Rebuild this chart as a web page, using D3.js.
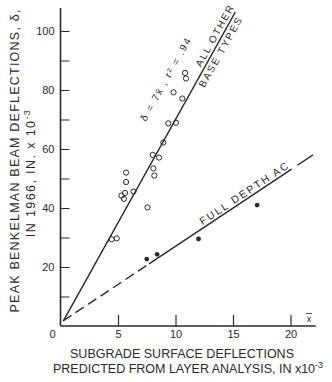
<!DOCTYPE html>
<html>
<head>
<meta charset="utf-8">
<script src="https://cdn.jsdelivr.net/npm/d3@7"></script>
<style>
  html, body { margin: 0; padding: 0; background: #fff; }
  svg { display: block; font-family: "Liberation Sans", Arial, sans-serif; }
</style>
</head>
<body>
<svg id="chart" width="332" height="382"></svg>
<script>
// Predicted subgrade deflection (x, in x10^-3) vs. measured Benkelman beam deflection (y)
const otherX = [4.45, 4.89, 5.30, 5.52, 5.61, 5.70, 5.70, 6.35, 7.57, 8.07, 8.16, 8.02, 8.57, 8.94, 9.37, 10.04, 10.59, 9.83, 10.83, 10.91];
const otherY = [29.4, 29.7, 44.2, 43.1, 45.1, 48.8, 52.0, 45.6, 40.2, 53.4, 51.0, 58.0, 57.1, 62.2, 68.7, 68.9, 77.1, 79.2, 85.8, 83.9];
const fullDepthX = [7.5, 8.4, 12.0, 17.1];
const fullDepthY = [22.7, 24.3, 29.5, 41.0];

// Regression line for all other base types: delta = 7 x-bar
const otherSlope = 7;
const otherFitX = [0.25, 15.2];
// Full depth AC trend line (dashed near the origin, broken just before its end)
const fullFitStart = [0.22, 1.7];
const fullFitEnd = [21.96, 58.0];
const fullDashedUntil = 7.7;
const fullGap = [20.1, 20.6];

const xTicks = [5, 10, 15, 20];
const yTicks = [10, 20, 30, 40, 50, 60, 70, 80, 90, 100];
const yLabelled = [20, 40, 60, 80, 100];

const ink = "#2a2a2a";
const svg = d3.select("#chart");

const x = d3.scaleLinear().domain([0, 20]).range([60.5, 290.5]);
const y = d3.scaleLinear().domain([0, 100]).range([326, 31]);

// Axis lines
svg.append("line").attr("x1", x(0)).attr("x2", x(0)).attr("y1", y(107.8)).attr("y2", y(0))
  .attr("stroke", ink).attr("stroke-width", 1.6);
svg.append("line").attr("x1", x(0)).attr("x2", x(22.2)).attr("y1", y(0)).attr("y2", y(0))
  .attr("stroke", ink).attr("stroke-width", 1.6);

// Y axis ticks (inward) and labels
const yAxis = d3.axisLeft(y).tickValues(yTicks).tickSizeInner(-9).tickSizeOuter(0).tickPadding(6)
  .tickFormat(d => yLabelled.includes(d) ? d : "");
const gy = svg.append("g").attr("transform", `translate(${x(0)},0)`).call(yAxis);
gy.select(".domain").remove();
gy.selectAll("line").attr("stroke", ink).attr("stroke-width", 1);
gy.selectAll("text").attr("font-size", 11).attr("fill", ink).attr("font-family", "Liberation Sans, Arial, sans-serif");

// X axis ticks (upward) and labels
const xAxis = d3.axisBottom(x).tickValues(xTicks).tickSizeInner(-11).tickSizeOuter(0).tickPadding(4);
const gx = svg.append("g").attr("transform", `translate(0,${y(0)})`).call(xAxis);
gx.select(".domain").remove();
gx.selectAll("line").attr("stroke", ink).attr("stroke-width", 1.2);
gx.selectAll("text").attr("font-size", 11).attr("fill", ink).attr("font-family", "Liberation Sans, Arial, sans-serif");

// Origin label
svg.append("text").attr("x", x(0) - 8).attr("y", y(0) + 12).attr("text-anchor", "middle")
  .attr("font-size", 11).attr("fill", ink).text("0");

// x-bar marker at the end of the x axis
svg.append("text").attr("x", 309).attr("y", 322).attr("text-anchor", "middle")
  .attr("font-size", 9).attr("fill", ink).text("x");
svg.append("line").attr("x1", 306).attr("x2", 312).attr("y1", 313.5).attr("y2", 313.5)
  .attr("stroke", ink).attr("stroke-width", 0.8);

// Fit line for all other base types
svg.append("line")
  .attr("x1", x(otherFitX[0])).attr("y1", y(otherSlope * otherFitX[0]))
  .attr("x2", x(otherFitX[1])).attr("y2", y(otherSlope * otherFitX[1]))
  .attr("stroke", ink).attr("stroke-width", 1.4);

// Full depth AC line
const fullAt = xv => fullFitStart[1] + (fullFitEnd[1] - fullFitStart[1]) * (xv - fullFitStart[0]) / (fullFitEnd[0] - fullFitStart[0]);
const seg = (x0, x1, dash) => svg.append("line")
  .attr("x1", x(x0)).attr("y1", y(fullAt(x0)))
  .attr("x2", x(x1)).attr("y2", y(fullAt(x1)))
  .attr("stroke", ink).attr("stroke-width", 1.4)
  .attr("stroke-dasharray", dash || null);
seg(fullFitStart[0], fullDashedUntil, "10,5");
seg(fullDashedUntil, fullGap[0]);
seg(fullGap[1], fullFitEnd[0]);

// Points
svg.append("g").selectAll("circle").data(otherX.map((d, i) => [d, otherY[i]])).join("circle")
  .attr("cx", d => x(d[0])).attr("cy", d => y(d[1])).attr("r", 2.6)
  .attr("fill", "none").attr("stroke", ink).attr("stroke-width", 1);
svg.append("g").selectAll("circle").data(fullDepthX.map((d, i) => [d, fullDepthY[i]])).join("circle")
  .attr("cx", d => x(d[0])).attr("cy", d => y(d[1])).attr("r", 2.4)
  .attr("fill", ink);

// Line annotations
const steepAngle = Math.atan2(y(otherSlope * otherFitX[1]) - y(otherSlope * otherFitX[0]), x(otherFitX[1]) - x(otherFitX[0])) * 180 / Math.PI;
const shallowAngle = Math.atan2(y(fullFitEnd[1]) - y(fullFitStart[1]), x(fullFitEnd[0]) - x(fullFitStart[0])) * 180 / Math.PI;

function rotLabel(px, py, angle, dy, txt, size, len) {
  const t = svg.append("text")
    .attr("transform", `translate(${px},${py}) rotate(${angle})`)
    .attr("dy", dy).attr("font-size", size).attr("fill", ink).text(txt);
  if (len) t.attr("textLength", len).attr("lengthAdjust", "spacing");
  return t;
}
rotLabel(x(12.45), y(otherSlope * 12.45), steepAngle, -3, "ALL OTHER", 10, 68);
rotLabel(x(11.75), y(otherSlope * 11.75), steepAngle, 10, "BASE TYPES", 10, 78);
rotLabel(146, 122, steepAngle, 0, "δ = 7x\u0304 , r² = .94", 10, 93);
rotLabel(x(12.35), y(fullAt(12.35)) - 3, shallowAngle, 0, "FULL DEPTH AC", 10.5, 104);

// Axis titles
const xt = svg.append("g").attr("fill", ink).attr("font-size", 12.5).attr("text-anchor", "middle");
xt.append("text").attr("x", 182).attr("y", 358).attr("textLength", 224).text("SUBGRADE SURFACE DEFLECTIONS");
const xt2 = xt.append("text").attr("x", 188).attr("y", 373);
xt2.append("tspan").text("PREDICTED FROM LAYER ANALYSIS, IN x10");
xt2.append("tspan").attr("font-size", 9).attr("dy", -5).text("-3");

const yt = svg.append("g").attr("fill", ink).attr("font-size", 12.5).attr("text-anchor", "middle");
yt.append("text").attr("transform", "translate(19,161) rotate(-90)")
  .attr("textLength", 303).text("PEAK BENKELMAN BEAM DEFLECTIONS, δ,");
const yt2 = yt.append("text").attr("transform", "translate(35,173) rotate(-90)")
  .attr("letter-spacing", 1.4);
yt2.append("tspan").text("IN 1966, IN. x 10");
yt2.append("tspan").attr("font-size", 9).attr("dy", -5).text("-3");
</script>
</body>
</html>
